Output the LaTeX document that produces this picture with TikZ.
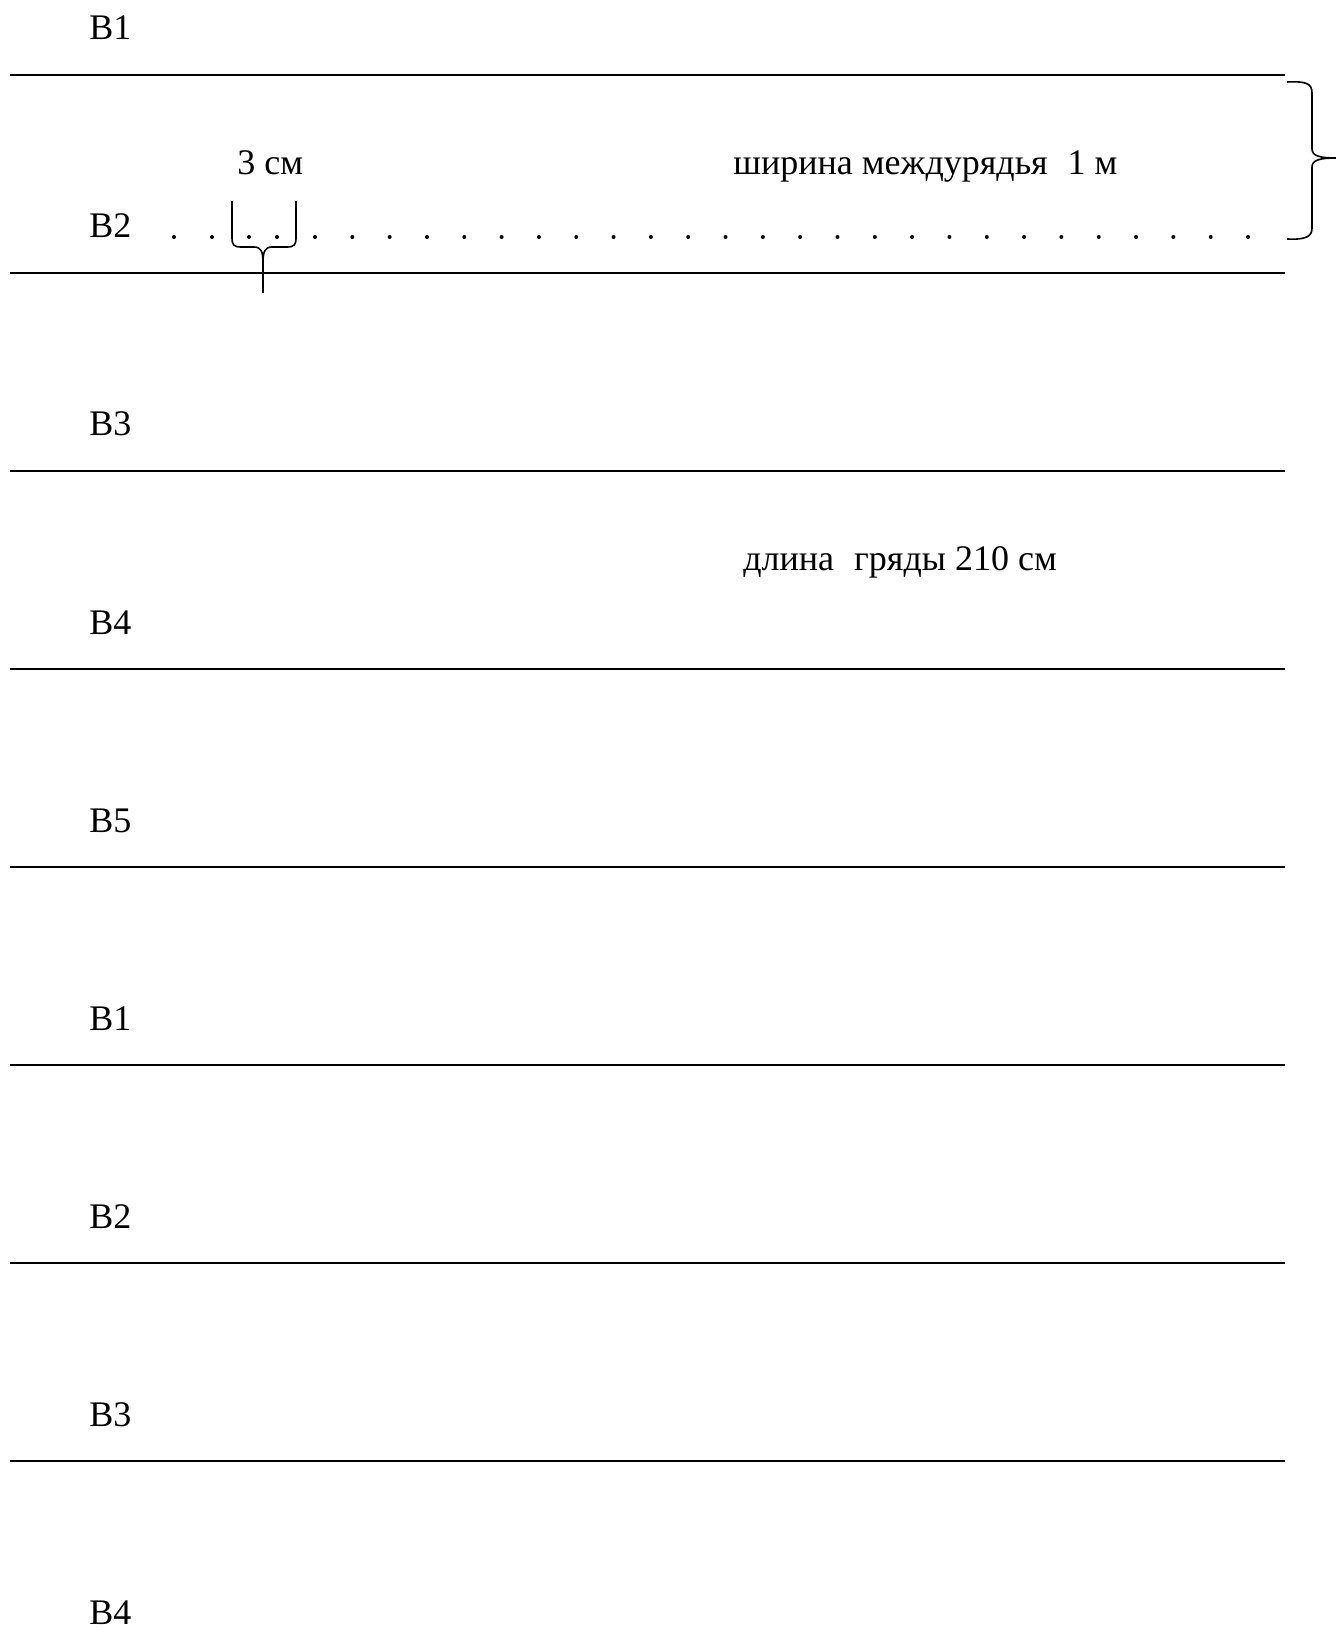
\documentclass[tikz,border=0pt]{standalone}
\usepackage{fontspec}
\setmainfont{Liberation Serif}

\begin{document}
\begin{tikzpicture}[x=0.5pt, y=-0.5pt,
    every node/.style={font=\fontsize{18pt}{21pt}\selectfont, inner sep=0pt, anchor=base west},
    bedline/.style={line width=1pt},
    bracket/.style={line width=0.8pt}]
    \useasboundingbox (0,0) rectangle (1336,1652);

    % rows and their labels
    \foreach \k/\lbl in {0/В1,1/В2,2/В3,3/В4,4/В5,5/В1,6/В2,7/В3,8/В4} {
        \node (row\k) at (89, 40+198*\k) {\lbl};
    }
    \foreach \k in {0,...,7} {
        \draw [bedline] (10, 75+198*\k) -- (1285, 75+198*\k);
    }

    % plants in row 2
    \foreach \x in {174,212,249,277} {
        \fill (\x,237) circle (1pt);
    }
    \foreach \i in {0,...,25} {
        \fill ({315+37.32*\i},237) circle (1pt);
    }

    \node (step3) at (237,175) {3 см};
    \node (rowwidth) at (733,175) {ширина междурядья\hspace{10pt}1 м};
    \node (bedlength) at (743,570) {длина\hspace{10pt}гряды 210 см};

    % small brace under the 3 cm gap
    \draw [bracket] (232,201) -- (232,238) .. controls (232,245) and (234,247) .. (241,247) -- (254,247)
        .. controls (261,247) and (263,252) .. (263,262) -- (263,293);
    \draw [bracket] (296,201) -- (296,238) .. controls (296,245) and (294,247) .. (287,247) -- (272,247)
        .. controls (265,247) and (263,252) .. (263,262);

    % brace on the right
    \draw [bracket] (1287,82) .. controls (1307,81) and (1312,84) .. (1312,93) -- (1312,149)
        .. controls (1312,156) and (1320,158) .. (1336,158);
    \draw [bracket] (1287,239) .. controls (1307,240) and (1312,236) .. (1312,228) -- (1312,167)
        .. controls (1312,160) and (1320,158) .. (1336,158);
\end{tikzpicture}
\end{document}
